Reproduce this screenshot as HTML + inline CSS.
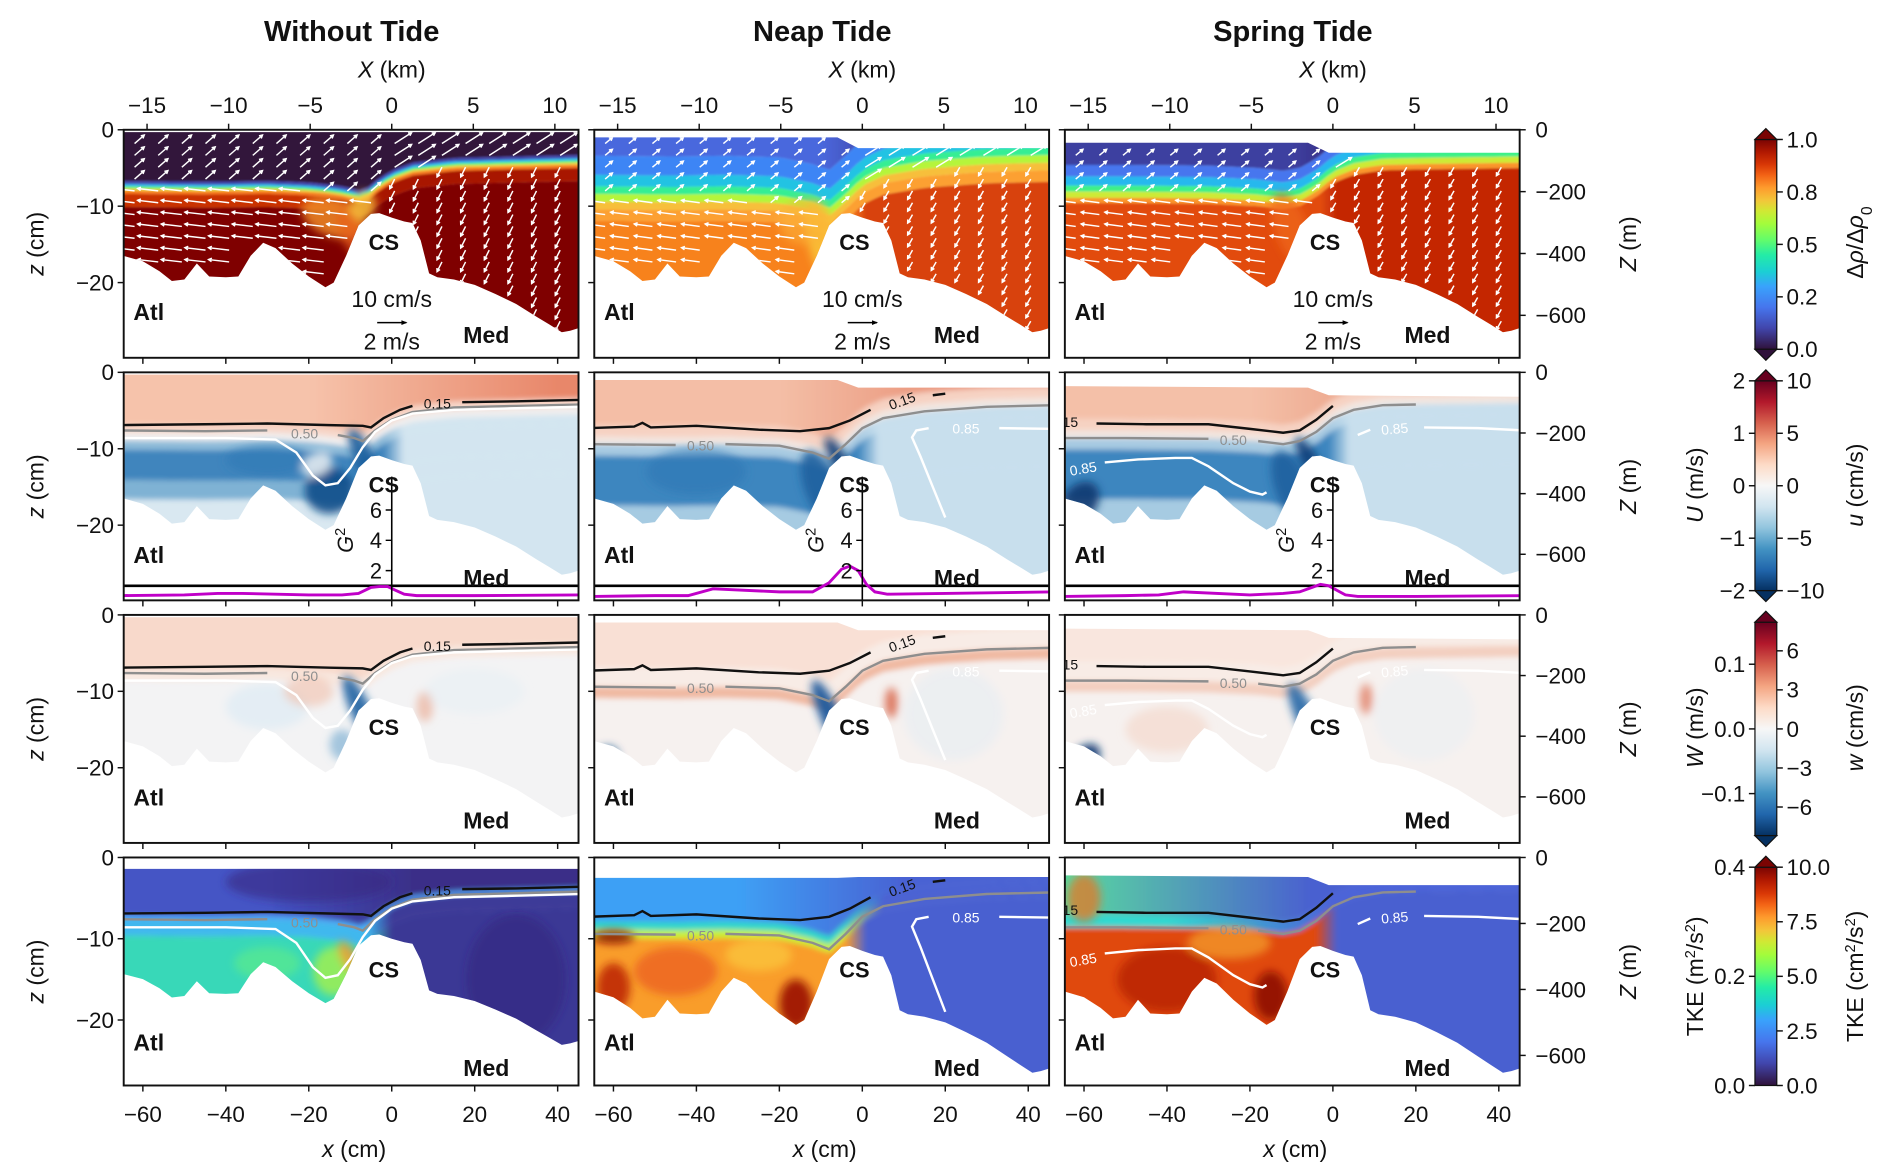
<!DOCTYPE html>
<html><head><meta charset="utf-8"><title>Strait exchange flow panels</title>
<style>
html,body{margin:0;padding:0;background:#fff;}
svg{display:block;font-family:"Liberation Sans","DejaVu Sans",sans-serif;}
</style></head>
<body>
<svg id="fig" xmlns="http://www.w3.org/2000/svg" width="1892" height="1175" viewBox="0 0 1560 968.8" preserveAspectRatio="none">
<defs id="defs">
<filter id="blur" x="-60%" y="-60%" width="220%" height="220%"><feGaussianBlur stdDeviation="3.5"/></filter>
<filter id="blur2" x="-5%" y="-5%" width="110%" height="110%"><feGaussianBlur stdDeviation="2.2"/></filter>
<filter id="blur1" x="-5%" y="-5%" width="110%" height="110%"><feGaussianBlur stdDeviation="0.8"/></filter>
<linearGradient id="turbo" x1="0" y1="1" x2="0" y2="0">
<stop offset="0" stop-color="#30123b"/><stop offset="0.1" stop-color="#4145ab"/><stop offset="0.2" stop-color="#4675ed"/><stop offset="0.3" stop-color="#39a2fc"/><stop offset="0.37" stop-color="#1bcfd4"/><stop offset="0.45" stop-color="#24eca6"/><stop offset="0.52" stop-color="#61fc6c"/><stop offset="0.6" stop-color="#a4fc3b"/><stop offset="0.66" stop-color="#d1e834"/><stop offset="0.71" stop-color="#f3c63a"/><stop offset="0.77" stop-color="#fe9b2d"/><stop offset="0.83" stop-color="#f36315"/><stop offset="0.88" stop-color="#d93806"/><stop offset="0.94" stop-color="#b11901"/><stop offset="1" stop-color="#7a0403"/>
</linearGradient>
<linearGradient id="rdbu" x1="0" y1="1" x2="0" y2="0">
<stop offset="0" stop-color="#053061"/><stop offset="0.1" stop-color="#2166ac"/><stop offset="0.2" stop-color="#4393c3"/><stop offset="0.3" stop-color="#92c5de"/><stop offset="0.4" stop-color="#d1e5f0"/><stop offset="0.5" stop-color="#f7f7f7"/><stop offset="0.6" stop-color="#fddbc7"/><stop offset="0.7" stop-color="#f4a582"/><stop offset="0.8" stop-color="#d6604d"/><stop offset="0.9" stop-color="#b2182b"/><stop offset="1" stop-color="#67001f"/>
</linearGradient>
</defs>
</svg>
<script>
// ---------- data ----------
const xTicksCm=[-60,-40,-20,0,20,40];
const xTicksKm=[-15,-10,-5,0,5,10];
const zTicksCm=[0,-10,-20];
const zTicksM=[0,-200,-400,-600];
const colTitles=["Without Tide","Neap Tide","Spring Tide"];
const bathyX=[-66,-60,-56,-53,-50,-47,-44,-40,-37,-34,-31,-28,-24,-20,-16,-14,-11,-8,-5,-3,0,3,5,7,9,11,15,20,25,30,35,38,41,43,46];
const bathyZ=[-16.3,-17.2,-18.5,-19.8,-19.6,-17.5,-19.2,-19.3,-19.2,-16.5,-14.8,-15.5,-17.5,-19.2,-20.6,-20.0,-16.5,-12.5,-11.0,-10.9,-11.5,-12.0,-12.2,-14.5,-18.8,-19.3,-19.6,-20.3,-21.5,-22.8,-24.5,-25.5,-26.5,-26.3,-25.8];
const surfX=[-66,-6,-1,46];
const surfZRow1=[[-0.3,-0.3,-0.3,-0.3],[-1,-1,-2.4,-2.4],[-1.7,-1.7,-3,-3]];
const surfZRow23=[[-0.3,-0.3,-0.3,-0.3],[-1,-1,-2,-2],[-1.8,-2,-3,-3.2]];
const surfZRow4=[[-1.4,-1.4,-1.4,-1.4],[-2.5,-2.5,-2.4,-2.4],[-2.2,-2.4,-3.4,-3.4]];
const ifX=[[-66,-45,-30,-20,-13,-9,-7,-4,0,5,15,30,46],[-66,-45,-33,-20,-12,-8,-4,0,5,15,30,46],[-66,-50,-30,-18,-12,-8,-4,0,5,12,20,46]];
const ifZ=[[-7.6,-7.7,-7.6,-7.8,-8.2,-8.6,-9.0,-7.6,-6.2,-5.2,-4.6,-4.4,-4.2],[-9.4,-9.5,-9.4,-9.6,-10.5,-11.3,-9.4,-7.3,-6.0,-5.1,-4.5,-4.3],[-8.6,-8.6,-8.7,-9.0,-9.4,-9.0,-7.8,-6.0,-4.9,-4.3,-4.2,-4.0]];
const c85X1=[-66,-40,-28,-23,-19,-16,-13,-10,-7,-4,0,5,15,30,46];
const c85Z1=[-8.6,-8.6,-8.8,-10.5,-13.5,-14.8,-14.5,-12.5,-9.8,-7.8,-6.3,-5.4,-4.9,-4.7,-4.5];
const c15X=[[-66,-45,-30,-15,-7,-5,-2,2,5,NaN,17,30,46],[-66,-55,-53,-51,-40,-25,-15,-8,-3,2,NaN,17,20],[-57,-45,-30,-20,-12,-8,-4,0]];
const c15Z=[[-6.9,-6.8,-6.7,-6.9,-7.0,-7.2,-6.0,-4.9,-4.4,NaN,-3.9,-3.8,-3.6],[-7.3,-7.1,-6.6,-7.2,-7.0,-7.5,-7.7,-7.3,-6.3,-4.9,NaN,-3.0,-2.8],[-6.7,-6.8,-6.8,-7.4,-7.9,-7.6,-6.2,-4.4]];
const c50X=[[-66,-45,-30,NaN,-13,-9,-7,-4,0,5,15,30,46],[-66,-45,NaN,-33,-20,-12,-8,-4,0,5,15,30,46],[-66,-50,-30,NaN,-18,-12,-8,-4,0,5,12,20]];
const c50Z=[[-7.6,-7.7,-7.6,NaN,-8.2,-8.6,-9.0,-7.6,-6.2,-5.2,-4.6,-4.4,-4.2],[-9.4,-9.5,NaN,-9.4,-9.6,-10.5,-11.3,-9.4,-7.3,-6.0,-5.1,-4.5,-4.3],[-8.6,-8.6,-8.7,NaN,-9.0,-9.4,-9.0,-7.8,-6.0,-4.9,-4.3,-4.2]];
const c85X=[c85X1,[20,17,14,12,13,16,NaN,33,46],[-55,-47,-38,-34,-30,-24,-20,-17,-16,NaN,6,9,NaN,22,35,46]];
const c85Z=[c85Z1,[-19,-15,-11,-8.5,-7.6,-7.3,NaN,-7.3,-7.4],[-11.8,-11.4,-11.2,-11.2,-12.3,-14.5,-15.6,-16.0,-15.7,NaN,-8.2,-7.5,NaN,-7.2,-7.3,-7.6]];
const c15Lab=[[11,-4.1,0,"0.15"],[10,-3.7,-20,"0.15"],[-63.3,-6.5,0,"15"]];
const c50Lab=[[-21,-8.0,0,"0.50"],[-39,-9.6,0,"0.50"],[-24,-8.9,0,"0.50"]];
const c85Lab=[[null],[25,-7.4,0,"0.85"],[-60,-12.6,-10,"0.85"]];
const c85Lab2=[[null],[null],[15,-7.4,-5,"0.85"]];
// G^2 along-channel Froude number
const gX=[-66,-50,-42,-36,-20,-12,-8,-5,-3,-1,1,3,6,20,46];
const gVals=[[0.35,0.4,0.5,0.5,0.4,0.4,0.5,0.9,0.95,0.95,0.7,0.45,0.35,0.35,0.4],[0.3,0.35,0.35,0.8,0.6,0.6,1.2,2.1,2.3,2.0,1.1,0.6,0.45,0.5,0.6],[0.3,0.35,0.4,0.6,0.4,0.5,0.6,0.9,1.1,1.0,0.7,0.4,0.3,0.3,0.35]];
const gTicks=[2,4,6];
// quiver velocities (cm/s) : upper-west, upper-east, lower-west, lower-east
const velUpW=[[0.8,0.7],[0.6,0.5],[0.6,0.5]];
const velUpE=[[1.4,0.9],[1.3,0.8],[1.3,0.8]];
const velLoW=[[-1.7,0.2],[-1.5,0.2],[-1.5,0.2]];
const velLoE=[[-0.4,-0.8],[-0.4,-0.7],[-0.4,-0.7]];
const cb1Ticks=[0,0.25,0.5,0.75,1.0]; const cb1Labels=["0.0","0.2","0.5","0.8","1.0"];
const cb2L=[-2,-1,0,1,2]; const cb2R=[-10,-5,0,5,10];
const cb3L=[-0.1,0.0,0.1]; const cb3R=[-6,-3,0,3,6];
const cb4L=[0.0,0.2,0.4]; const cb4R=[0.0,2.5,5.0,7.5,10.0];

// ---------- layout ----------
const NS="http://www.w3.org/2000/svg";
const svg=document.getElementById("fig");
const defs=document.getElementById("defs");
const COLX=[102,490,878], ROWY=[107,307,507,707], PW=375, PH=188;
const K=[6.3,6.3,6.3,6.7], KM=[0.255,0.25,0.25,0.272];
function px(c,x){return COLX[c]+221+3.42*x;}
function py(r,z){return ROWY[r]-z*K[r];}
function mk(tag,attrs,parent){const e=document.createElementNS(NS,tag);for(const k in attrs)e.setAttribute(k,attrs[k]);(parent||svg).appendChild(e);return e;}
function txt(s,x,y,size,opts,parent){const t=mk("text",Object.assign({x:x,y:y,"font-size":size,fill:"#111"},opts||{}),parent);t.textContent=s;return t;}
function interp(xs,zs,x){if(x<=xs[0])return zs[0];for(let i=1;i<xs.length;i++){if(x<=xs[i]){const f=(x-xs[i-1])/(xs[i]-xs[i-1]);return zs[i-1]+f*(zs[i]-zs[i-1]);}}return zs[zs.length-1];}
function bathyScale(r,c){return (r===3&&c===0)?0.87:1;}
function surfFor(r,c){return r===0?surfZRow1[c]:(r===3?surfZRow4[c]:surfZRow23[c]);}
function waterPath(r,c){let d="";surfX.forEach((x,i)=>{d+=(i?"L":"M")+px(c,x).toFixed(1)+","+py(r,surfFor(r,c)[i]).toFixed(1);});
 for(let i=bathyX.length-1;i>=0;i--){d+="L"+px(c,bathyX[i]).toFixed(1)+","+py(r,bathyZ[i]*bathyScale(r,c)).toFixed(1);}return d+"Z";}
function curvePath(r,c,xs,zs){let d="",pen=false;xs.forEach((x,i)=>{if(isNaN(x)){pen=false;return;}d+=(pen?"L":"M")+px(c,x).toFixed(1)+","+py(r,zs[i]).toFixed(1);pen=true;});return d;}
let gid=0;
function fillOf(r,c,f){if(typeof f==="string")return f;const id="g"+(gid++);const g=mk("linearGradient",{id:id,gradientUnits:"userSpaceOnUse",x1:px(c,f.g[0]),x2:px(c,f.g[1]),y1:0,y2:0},defs);mk("stop",{offset:0,"stop-color":f.g[2]},g);mk("stop",{offset:1,"stop-color":f.g[3]},g);return "url(#"+id+")";}
function bandPath(r,c,o1,o2){const xs=ifX[c],zs=ifZ[c];const n=60;let top=[],bot=[];
 for(let i=0;i<=n;i++){const x=-75+130*i/n;const zi=interp(xs,zs,x);
  const z1=o1==="S"?5:zi-o1, z2=o2==="B"?-40:zi-o2; top.push([px(c,x),py(r,z1)]);bot.push([px(c,x),py(r,z2)]);}
 let d="M"+top.map(p=>p[0].toFixed(1)+","+p[1].toFixed(1)).join("L");d+="L"+bot.reverse().map(p=>p[0].toFixed(1)+","+p[1].toFixed(1)).join("L")+"Z";return d;}

const FIELDS=[
[{b:[["S",-0.9,"#30123b"],[-0.9,-0.5,"#4145ab"],[-0.5,-0.2,"#2ab0f0"],[-0.2,0.1,"#5ef56e"],[0.1,0.4,"#f2c83a"],[0.4,0.8,"#f5731c"],[0.8,2.5,{g:[-20,-3,"#c93005","#a81502"]}],[2.5,"B","#7f0603"]],
  k:[[-14,-11.5,8,2.5,20,"#ef8a25",0.85],[-7,-10,3,2,30,"#f7c840",0.8],[-9,-14,3,4,-30,"#e8601a",0.7]]},
 {b:[["S",-6,{g:[-10,10,"#4a68dd","#3c3590"]}],[-6,-3.5,"#3d85f5"],[-3.5,-2,"#22c3e3"],[-2,-1,"#35ee94"],[-1,0,"#b5f53a"],[0,1,"#f7bf3a"],[1,2.5,"#fca033"],[2.5,"B",{g:[-3,1,"#f7821f","#d8420d"]}]],
  k:[[-9,-15,4,6,-15,"#f9c43b",0.85],[-14,-12,6,3,0,"#fbb035",0.6]]},
 {b:[["S",-4,{g:[-10,10,"#3d3fa0","#33206a"]}],[-4,-2.5,"#4676ee"],[-2.5,-1.3,"#27b8ee"],[-1.3,-0.5,"#3ef088"],[-0.5,0.3,"#cdea35"],[0.3,1,"#fb942a"],[1,"B",{g:[-3,1,"#e24c0d","#c42805"]}]],
  k:[[-10,-13,4,5,-20,"#ef6a18",0.7]]}],
[{b:[["S",-0.8,{g:[-20,40,"#f6c3ab","#e8876a"]}],[-0.8,0.3,"#f7d6c8"],[0.3,1.3,"#f0eeee"],[1.3,2.5,{g:[-2,3,"#8dbbd9","#d3e5f0"]}],[2.5,6.5,{g:[-2,3,"#3f85bd","#d3e5f0"]}],[6.5,9,{g:[-2,3,"#7fb2d4","#d3e5f0"]}],[9,"B",{g:[-2,3,"#d9e8f1","#d3e5f0"]}]],
  k:[[-15,-15.5,6,3,0,"#0e4c8a",0.9],[-6,-12,2.5,5,-25,"#1a5c9c",0.9],[-30,-11.5,10,2,0,"#2f78b6",0.6],[-18,-12,4,1.5,-30,"#f5f5f5",0.8]]},
 {b:[["S",-2.5,{g:[-20,40,"#f4bea6","#e48065"]}],[-2.5,-1,"#f6d2c2"],[-1,0,"#f2e6e0"],[0,1.5,{g:[-1,4,"#a8cbe2","#c8dfed"]}],[1.5,8,{g:[-1,4,"#3e86bf","#c8dfed"]}],[8,"B",{g:[-1,4,"#a6cbe2","#c8dfed"]}]],
  k:[[-10,-15,4,5,-20,"#1d5f9e",0.9],[-5,-12,2,4,-30,"#0d3f78",0.9],[-40,-13,12,3,0,"#2e76b4",0.6]]},
 {b:[["S",-2.5,{g:[-20,40,"#f4c0a8","#e48468"]}],[-2.5,-1,"#f6d2c2"],[-1,0,"#f2e6e0"],[0,1.5,{g:[-1,4,"#a8cbe2","#c8dfed"]}],[1.5,8,{g:[-1,4,"#3e86bf","#c8dfed"]}],[8,"B",{g:[-1,4,"#a6cbe2","#c8dfed"]}]],
  k:[[-10,-15,4,5,-20,"#1d5f9e",0.9],[-5,-12,2,4,-30,"#0d3f78",0.9],[-61,-17,4,3,40,"#0b3670",0.9]]}],
[{b:[["S",-0.5,"#f8d9cb"],[-0.5,1,"#f8e8e0"],[1,"B","#f3f3f4"]],
  k:[[-30,-12,10,3,0,"#e0ecf4",0.8],[-7,-13,2.5,5.5,-25,"#1f62a2",0.9],[-12,-17,3,2,0,"#6ea6cf",0.6],[-20,-10,6,2,0,"#f2c0aa",0.6],[8,-12,2,2,0,"#eaa58c",0.6],[20,-10,12,3,0,"#e2edf4",0.4]]},
 {b:[["S",-2.5,"#f9e0d5"],[-2.5,0,"#f8ece6"],[0,1.5,"#f0b9a2"],[1.5,"B","#f6f1ef"]],
  k:[[-7,-14,2.5,6,-25,"#1b5a9c",0.95],[7,-11.5,1.5,2,0,"#d9694f",0.9],[-62,-19,3,2,45,"#0f4a88",0.8],[22,-13,12,6,0,"#e1ecf3",0.45]]},
 {b:[["S",-2.5,"#f9e6de"],[-2.5,0,"#f8ece6"],[0,1.5,"#f3cfc0"],[1.5,"B","#f6f1ef"]],
  k:[[-6,-14,2.5,5.5,-25,"#2467a6",0.9],[8,-11,1.5,2,0,"#e07a60",0.8],[-60,-19,3,2.5,45,"#0b3a74",0.95],[-40,-15,10,3,0,"#f3d6c8",0.6],[22,-13,12,6,0,"#e4eef4",0.4]]}],
[{b:[["S",-0.5,{g:[-30,5,"#4455c5","#3a2f88"]}],[-0.5,0,"#4fa0f5"],[0,2,{g:[-6,0,"#3fb8ee","#3d3a98"]}],[2,"B",{g:[-6,0,"#37d8b8","#3b3995"]}]],
  k:[[-14,-14,5,3,0,"#a6f04a",0.8],[-10,-12.5,2,2.5,-30,"#f59a30",0.8],[-30,-13,8,2,0,"#6af17a",0.5],[-20,-3,20,2.5,0,"#352a80",0.6],[30,-15,12,8,0,"#33257a",0.5]]},
 {b:[["S",-1.5,{g:[-30,10,"#3ea0f5","#4862d3"]}],[-1.5,-0.5,{g:[-5,5,"#2ed8c8","#4862d3"]}],[-0.5,0.5,{g:[-5,5,"#c8f035","#4a60d0"]}],[0.5,"B",{g:[-4,1,"#f99d2c","#4a60d0"]}]],
  k:[[-60,-9.8,5,0.8,0,"#8a0a02",0.9],[-16,-18,4,3,0,"#9a1002",0.9],[-45,-14,10,3,0,"#e8501a",0.6],[-25,-12,8,2,0,"#fcd040",0.6],[-60,-16,4,3,0,"#b81c04",0.8]]},
 {b:[["S",-1.5,{g:[-64,-5,"#58d8a0","#4a60d0"]}],[-1.5,0,{g:[-40,0,"#33d8d0","#4b63d8"]}],[0,"B",{g:[-4,1,"#e04810","#4a60d0"]}]],
  k:[[-60,-5,4,3,0,"#f07020",0.7],[-40,-15,12,4,0,"#b01a04",0.7],[-15,-17,4,3,0,"#8e0a02",0.9],[-25,-10.5,10,2,0,"#f8b030",0.6]]}]
];

// ---------- panels ----------
for(let r=0;r<4;r++){for(let c=0;c<3;c++){
 const g=mk("g",{});
 
 
 const cid="clip"+r+c;
 const cp=mk("clipPath",{id:cid},defs);
 mk("path",{d:waterPath(r,c)},cp);
 const rid="rclip"+r+c;
 const rp=mk("clipPath",{id:rid},defs);
 mk("rect",{x:COLX[c],y:ROWY[r],width:PW,height:PH},rp);
 const outer=mk("g",{"clip-path":"url(#"+rid+")"},g);
 const field=mk("g",{"clip-path":"url(#"+cid+")"},outer);
 
 
 const F=FIELDS[r][c];
 const bg=mk("g",{filter:r===0?"url(#blur1)":"url(#blur2)"},field);
 F.b.forEach(b=>{mk("path",{d:bandPath(r,c,b[0],b[1]),fill:fillOf(r,c,b[2])},bg);});
 const bl=mk("g",{filter:"url(#blur)"},field);
 F.k.forEach(k=>{const cx=px(c,k[0]),cy=py(r,k[1]);mk("ellipse",{cx:cx,cy:cy,rx:k[2]*3.42,ry:k[3]*K[r],fill:k[5],opacity:k[6],transform:"rotate("+k[4]+" "+cx+" "+cy+")"},bl);});
 if(r===0){
  const qg=mk("g",{stroke:"#fff","stroke-width":1.2,fill:"none"},field);
  
  
  for(let x=-62;x<=44;x+=5.7){for(let z=-1.8;z>=-28;z-=1.55){
   const sz=interp(surfX,surfZRow1[c],x), bz=interp(bathyX,bathyZ,x), iz=interp(ifX[c],ifZ[c],x);
   if(z>sz-0.6||z<bz+0.8)continue;
   let v; if(z>iz) v=x<-1?velUpW[c]:velUpE[c]; else v=x<-3?velLoW[c]:velLoE[c];
   const L=10, x0=px(c,x), y0=py(r,z), x1=x0+v[0]*L, y1=y0-v[1]*L;
   mk("line",{x1:x0,y1:y0,x2:x1,y2:y1},qg);
   const a=Math.atan2(y1-y0,x1-x0);
   mk("path",{d:"M"+(x1-3*Math.cos(a-0.5))+","+(y1-3*Math.sin(a-0.5))+"L"+x1+","+y1+"L"+(x1-3*Math.cos(a+0.5))+","+(y1-3*Math.sin(a+0.5))},qg);
  }}
 } else {
  const cl=mk("g",{fill:"none","stroke-width":2},outer);
  
  
  mk("path",{d:curvePath(r,c,c50X[c],c50Z[c]),stroke:"#8e8e8e"},cl);
  mk("path",{d:curvePath(r,c,c85X[c],c85Z[c]),stroke:"#ffffff"},cl);
  mk("path",{d:curvePath(r,c,c15X[c],c15Z[c]),stroke:"#111"},cl);
  [[c15Lab[c],"#111"],[c50Lab[c],"#8e8e8e"],[c85Lab[c],"#fff"],[c85Lab2[c],"#fff"]].forEach(p=>{const L=p[0];if(L[0]===null)return;
   const x=px(c,L[0]),y=py(r,L[1])+4;const t=txt(L[3],x,y,11.5,{fill:p[1],"text-anchor":"middle",transform:"rotate("+L[2]+" "+x+" "+y+")"},outer);
   
   });
 }
 if(r===1){
  const gy=v=>ROWY[1]+188.5-12.5*v;
  const ig=mk("g",{},outer);
  
  
  mk("line",{x1:COLX[c],x2:COLX[c]+PW,y1:gy(1),y2:gy(1),stroke:"#000","stroke-width":2.2},ig);
  let d="";gX.forEach((x,i)=>{d+=(i?"L":"M")+px(c,x).toFixed(1)+","+gy(gVals[c][i]).toFixed(1);});
  const gl=mk("path",{d:d,fill:"none",stroke:"#c000c8","stroke-width":2.4},ig);
  
  
  const ax=px(c,0);
  mk("line",{x1:ax,x2:ax,y1:gy(8.2),y2:ROWY[1]+PH,stroke:"#000","stroke-width":1.3},ig);
  gTicks.forEach(v=>{mk("line",{x1:ax-5,x2:ax,y1:gy(v),y2:gy(v),stroke:"#000","stroke-width":1.2},ig);
   txt(String(v),ax-8,gy(v)+6.5,18,{"text-anchor":"end"},ig);});
  const gx=ax-38,gyc=gy(4);
  const gt=txt("",gx,gyc+6,18,{"text-anchor":"middle",transform:"rotate(-90 "+gx+" "+gyc+")","font-style":"italic"},ig);
  gt.innerHTML='G<tspan baseline-shift="super" font-size="12" font-style="normal">2</tspan>';
  
  
 }
 const lAtl=txt("Atl",COLX[c]+8,ROWY[r]+(r===3?153:151)+6,19,{"font-weight":"bold"},g);
 
 
 const lMed=txt("Med",COLX[c]+280,ROWY[r]+(r===3?174:170)+6,19,{"font-weight":"bold"},g);
 
 
 const lCS=txt("CS",COLX[c]+202,ROWY[r]+93+6,18,{"font-weight":"bold"},g);
 
 
 if(r===0){
  const cx=COLX[c]+221;
  txt("10 cm/s",cx,ROWY[0]+146,19,{"text-anchor":"middle"},g);
  mk("line",{x1:cx-12,x2:cx+12,y1:ROWY[0]+159,y2:ROWY[0]+159,stroke:"#000","stroke-width":1.2},g);
  mk("path",{d:"M"+(cx+8)+","+(ROWY[0]+157)+"L"+(cx+13)+","+(ROWY[0]+159)+"L"+(cx+8)+","+(ROWY[0]+161)+"Z",fill:"#000"},g);
  txt("2 m/s",cx,ROWY[0]+181,19,{"text-anchor":"middle"},g);
 }
 const fr=mk("rect",{x:COLX[c],y:ROWY[r],width:PW,height:PH,fill:"none",stroke:"#111","stroke-width":1.6},g);
 
 
 zTicksCm.forEach(z=>{const y=py(r,z);mk("line",{x1:COLX[c]-5,x2:COLX[c],y1:y,y2:y,stroke:"#111","stroke-width":1.2},g);
  if(c===0){const t=txt(String(z).replace("-","\u2212"),COLX[c]-8,y+6.5,18.5,{"text-anchor":"end"},g);
   
   }});
 xTicksCm.forEach(x=>{const X=px(c,x);mk("line",{x1:X,x2:X,y1:ROWY[r]+PH,y2:ROWY[r]+PH+5,stroke:"#111","stroke-width":1.2},g);
  if(r===3){const t=txt(String(x).replace("-","\u2212"),X,ROWY[r]+PH+30,18.5,{"text-anchor":"middle"},g);
   
   }});
 if(r===0){xTicksKm.forEach(k=>{const X=COLX[c]+221+13.45*k;mk("line",{x1:X,x2:X,y1:ROWY[0]-5,y2:ROWY[0],stroke:"#111","stroke-width":1.2},g);
  const t=txt(String(k).replace("-","\u2212"),X,ROWY[0]-14,18.5,{"text-anchor":"middle"},g);
  
  });}
 if(c===2){zTicksM.forEach(m=>{const y=ROWY[r]-m*KM[r];const X=COLX[2]+PW;mk("line",{x1:X,x2:X+5,y1:y,y2:y,stroke:"#111","stroke-width":1.2},g);
  const t=txt(String(m).replace("-","\u2212"),X+13,y+6.5,18.5,{},g);
  
  });
  const zx=1343,zy=ROWY[r]+94;const t=txt("",zx,zy+6,19,{"text-anchor":"middle",transform:"rotate(-90 "+zx+" "+zy+")"},g);
  t.innerHTML='<tspan font-style="italic">Z</tspan> (m)';
  
  }
 if(c===0){const zx=30,zy=ROWY[r]+94;const t=txt("",zx,zy+6,19,{"text-anchor":"middle",transform:"rotate(-90 "+zx+" "+zy+")"},g);
  t.innerHTML='<tspan font-style="italic">z</tspan> (cm)';
  
  }
}}
for(let c=0;c<3;c++){
 const cx=COLX[c]+188;
 const t=txt(colTitles[c],cx,34,24,{"text-anchor":"middle","font-weight":"bold"});
 
 
 const k=txt("",COLX[c]+221,64,19,{"text-anchor":"middle"});
 k.innerHTML='<tspan font-style="italic">X</tspan> (km)';
 
 
 const xl=txt("",COLX[c]+190,954,19,{"text-anchor":"middle"});
 xl.innerHTML='<tspan font-style="italic">x</tspan> (cm)';
 
 
}
// ---------- colorbars ----------
const CBX=1447,CBW=18;
function colorbar(name,top,bot,grad,triTop,triBot,fillTop,fillBot){
 const g=mk("g",{});
 
 
 mk("rect",{x:CBX,y:top,width:CBW,height:bot-top,fill:"url(#"+grad+")",stroke:"#111","stroke-width":1},g);
 if(triTop)mk("path",{d:"M"+CBX+","+top+"L"+(CBX+CBW/2)+","+(top-9)+"L"+(CBX+CBW)+","+top+"Z",fill:fillTop,stroke:"#111","stroke-width":1},g);
 if(triBot)mk("path",{d:"M"+CBX+","+bot+"L"+(CBX+CBW/2)+","+(bot+9)+"L"+(CBX+CBW)+","+bot+"Z",fill:fillBot,stroke:"#111","stroke-width":1},g);
 return g;}
function cbTicks(g,vals,labels,vmin,vmax,top,bot,side){vals.forEach((v,i)=>{const y=bot-(v-vmin)/(vmax-vmin)*(bot-top);
 if(side==="R"){mk("line",{x1:CBX+CBW,x2:CBX+CBW+5,y1:y,y2:y,stroke:"#111","stroke-width":1.2},g);txt(labels[i],CBX+CBW+8,y+6.5,18.5,{},g);}
 else{mk("line",{x1:CBX-5,x2:CBX,y1:y,y2:y,stroke:"#111","stroke-width":1.2},g);txt(labels[i],CBX-8,y+6.5,18.5,{"text-anchor":"end"},g);}});}
function rotLabel(g,html,x,y){const t=txt("",x,y+6,19,{"text-anchor":"middle",transform:"rotate(-90 "+x+" "+y+")"},g);t.innerHTML=html;return t;}
const m=s=>s.replace("-","\u2212");
const g1=colorbar("colorbar-density",115,288,"turbo",true,true,"#7a0403","#30123b");
cbTicks(g1,cb1Ticks,cb1Labels,0,1,115,288,"R");
rotLabel(g1,'Δ<tspan font-style="italic">ρ</tspan>/Δ<tspan font-style="italic">ρ</tspan><tspan baseline-shift="sub" font-size="13">0</tspan>',1530,200);
const g2=colorbar("colorbar-u",314,487,"rdbu",true,true,"#67001f","#053061");
cbTicks(g2,cb2L,cb2L.map(v=>m(String(v))),-2,2,314,487,"L");
cbTicks(g2,cb2R,cb2R.map(v=>m(String(v))),-10,10,314,487,"R");
rotLabel(g2,'<tspan font-style="italic">U</tspan> (m/s)',1398,400);
rotLabel(g2,'<tspan font-style="italic">u</tspan> (cm/s)',1530,400);
const g3=colorbar("colorbar-w",513,689,"rdbu",true,true,"#67001f","#053061");
cbTicks(g3,cb3L,["\u22120.1","0.0","0.1"],-0.165,0.165,513,689,"L");
cbTicks(g3,cb3R,cb3R.map(v=>m(String(v))),-8.2,8.2,513,689,"R");
rotLabel(g3,'<tspan font-style="italic">W</tspan> (m/s)',1398,600);
rotLabel(g3,'<tspan font-style="italic">w</tspan> (cm/s)',1530,600);
const g4=colorbar("colorbar-tke",715,895,"turbo",true,false,"#7a0403","#30123b");
cbTicks(g4,cb4L,["0.0","0.2","0.4"],0,0.4,715,895,"L");
cbTicks(g4,cb4R,["0.0","2.5","5.0","7.5","10.0"],0,10,715,895,"R");
rotLabel(g4,'TKE (m<tspan baseline-shift="super" font-size="12">2</tspan>/s<tspan baseline-shift="super" font-size="12">2</tspan>)',1398,805);
rotLabel(g4,'TKE (cm<tspan baseline-shift="super" font-size="12">2</tspan>/s<tspan baseline-shift="super" font-size="12">2</tspan>)',1530,805);
</script>
</body></html>
